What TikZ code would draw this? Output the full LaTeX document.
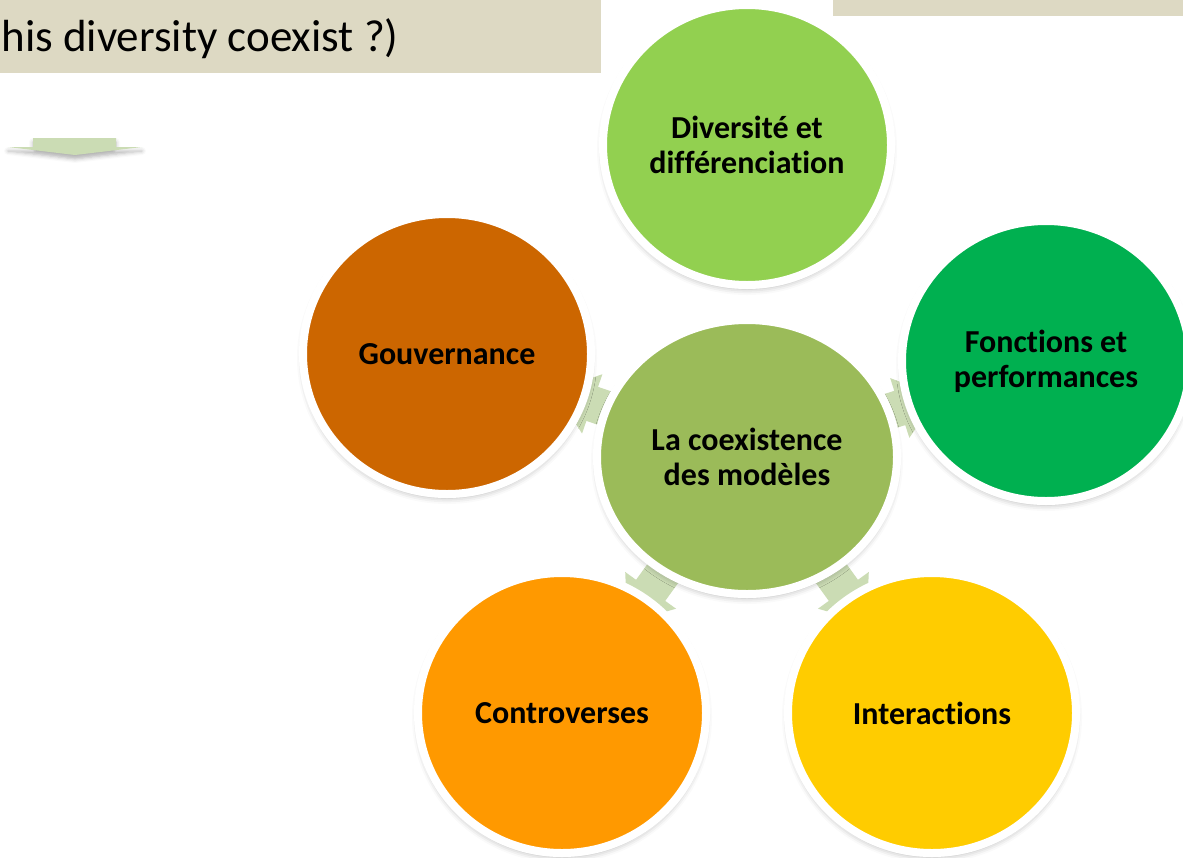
\documentclass[tikz,border=0pt]{standalone}
\usepackage{fontspec}
\setmainfont{Carlito}[Ligatures=NoCommon]
\usetikzlibrary{shapes}
\usetikzlibrary{arrows.meta}
\usetikzlibrary{backgrounds}
\usetikzlibrary{shadows.blur}
\definecolor{tanbox}{RGB}{221,217,195}
\definecolor{arrowgreen}{RGB}{203,220,180}
\definecolor{divgreen}{RGB}{146,208,80}
\definecolor{govbrown}{RGB}{204,102,0}
\definecolor{fongreen}{RGB}{0,176,80}
\definecolor{ctrolive}{RGB}{155,187,89}
\definecolor{conorange}{RGB}{255,153,0}
\definecolor{interyellow}{RGB}{255,204,0}

\begin{document}
\begin{tikzpicture}[x=0.5pt,y=-0.5pt,
  bubble/.style={ellipse, draw=white, line width=4pt, minimum width=144pt, minimum height=140pt,
    inner sep=0pt, align=center, font=\fontsize{16}{17.5}\selectfont\bfseries,
    blur shadow={shadow xshift=0pt, shadow yshift=-2pt, shadow blur radius=3pt, shadow opacity=30}},
  spoke/.style={arrowgreen, line width=18pt, -{Triangle[width=30pt,length=20pt]},
    shorten <=-20pt, shorten >=-17pt}]
\useasboundingbox (0,0) rectangle (1183,857);
\fill[tanbox] (0,0) rectangle (601,73);
\fill[tanbox] (833,0) rectangle (1183,16);
\node[anchor=base west, inner sep=0pt, font=\fontsize{22.5}{26}\selectfont] (title) at (1,51) {his diversity coexist ?)};
\fill[arrowgreen, blur shadow={shadow xshift=0pt, shadow yshift=-2pt, shadow blur radius=2pt, shadow opacity=30}]
  (33,138) -- (116,138) -- (116,147) -- (142,147) -- (75,155) -- (8,147) -- (33,147) -- cycle;
\node[bubble, fill=ctrolive, minimum width=150pt, minimum height=137pt] (ctr) at (747,457) {La coexistence\\des modèles};
\node[bubble, fill=divgreen] (div) at (747,145) {Diversité et\\différenciation};
\node[bubble, fill=govbrown] (gov) at (447,354) {Gouvernance};
\node[bubble, fill=fongreen] (fon) at (1046,361) {Fonctions et\\performances};
\node[bubble, fill=conorange] (con) at (562,713) {Controverses};
\node[bubble, fill=interyellow] (inter) at (932,713) {Interactions};
\begin{scope}[on background layer]
\foreach \o in {gov,fon,con,inter}
  \draw[spoke] (ctr) -- (\o);
\end{scope}
\end{tikzpicture}
\end{document}
